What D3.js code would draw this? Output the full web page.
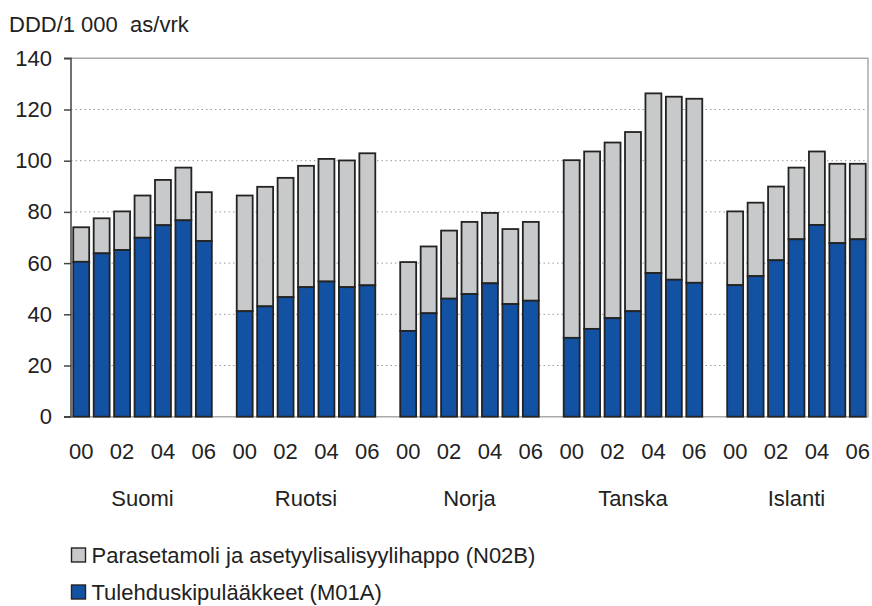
<!DOCTYPE html>
<html>
<head>
<meta charset="utf-8">
<script src="https://cdn.jsdelivr.net/npm/d3@7"></script>
<style>
  html, body { margin: 0; padding: 0; background: #fff; }
  svg { display: block; font-family: "Liberation Sans", Arial, sans-serif; }
</style>
</head>
<body>
<svg id="chart" width="872" height="606"></svg>
<script>
const countries = ["Suomi", "Ruotsi", "Norja", "Tanska", "Islanti"];
const years = ["00", "01", "02", "03", "04", "05", "06"];
const yearLabels = ["00", "02", "04", "06"];
// Tulehduskipulääkkeet (M01A)
const m01a = [
  [60.5, 63.8, 65.1, 69.9, 74.8, 76.7, 68.6],
  [41.2, 43.1, 46.7, 50.6, 52.8, 50.6, 51.3],
  [33.5, 40.4, 46.1, 47.9, 52.1, 44.0, 45.3],
  [30.8, 34.3, 38.5, 41.2, 56.1, 53.5, 52.3],
  [51.4, 54.9, 61.1, 69.3, 74.9, 67.8, 69.3]
];
// Totals (M01A + N02B)
const totals = [
  [74.0, 77.5, 80.2, 86.4, 92.5, 97.3, 87.7],
  [86.4, 89.8, 93.3, 98.0, 100.7, 100.1, 102.9],
  [60.4, 66.5, 72.7, 76.1, 79.6, 73.3, 76.1],
  [100.2, 103.6, 107.1, 111.2, 126.3, 125.0, 124.2],
  [80.2, 83.6, 89.9, 97.3, 103.6, 98.8, 98.8]
];
const yTicks = [0, 20, 40, 60, 80, 100, 120, 140];
const seriesNames = ["Parasetamoli ja asetyylisalisyylihappo (N02B)", "Tulehduskipulääkkeet (M01A)"];
const yTitle = "DDD/1 000\u00a0\u00a0as/vrk";

(function () {
const colBlue = "#1351a3", colGray = "#c8c9ca", colStroke = "#232323";
const svg = d3.select("#chart");
const pL = 71, pR = 868, pT = 58.3, pB = 416.7;
const fs = 22;

const slots = [];
countries.forEach((c, ci) => {
  years.forEach(yv => slots.push(c + "|" + yv));
  if (ci < countries.length - 1) slots.push("gap" + ci);
});
const x = d3.scaleBand().domain(slots).range([pL, pR]).paddingInner(0.22).paddingOuter(0.11);
const y = d3.scaleLinear().domain([0, 140]).range([pB, pT]);

svg.append("g").selectAll("line").data(yTicks.filter(t => t > 0 && t < 140)).join("line")
  .attr("x1", pL).attr("x2", pR).attr("y1", d => y(d)).attr("y2", d => y(d))
  .attr("stroke", "#999").attr("stroke-width", 1).attr("stroke-dasharray", "1.5,3");
svg.append("path").attr("d", `M${pL},${y(140)}H${pR}V${y(0)}H${pL}`)
  .attr("fill", "none").attr("stroke", "#aaa").attr("stroke-width", 1.5);

const rows = [];
countries.forEach((c, ci) => years.forEach((yv, yi) => {
  rows.push({key: c + "|" + yv, m: m01a[ci][yi], t: totals[ci][yi]});
}));

const g = svg.append("g");
g.selectAll("rect.gray").data(rows).join("rect").attr("class", "gray")
  .attr("x", d => x(d.key)).attr("width", x.bandwidth())
  .attr("y", d => y(d.t)).attr("height", d => y(d.m) - y(d.t))
  .attr("fill", colGray).attr("stroke", colStroke).attr("stroke-width", 1.8);
g.selectAll("rect.blue").data(rows).join("rect").attr("class", "blue")
  .attr("x", d => x(d.key)).attr("width", x.bandwidth())
  .attr("y", d => y(d.m)).attr("height", d => y(0) - y(d.m))
  .attr("fill", colBlue).attr("stroke", colStroke).attr("stroke-width", 1.8);

const yAxis = d3.axisLeft(y).tickValues(yTicks).tickSize(7).tickPadding(12).tickFormat(d3.format("d"));
const ya = svg.append("g").attr("transform", `translate(${pL},0)`).call(yAxis);
ya.select(".domain").attr("stroke", "#444").attr("stroke-width", 1.5).attr("d", `M-7,${y(140)}H0V${y(0)}H-7`);
ya.selectAll(".tick line").attr("stroke", "#444").attr("stroke-width", 1.5);
ya.selectAll("text").attr("font-size", fs).attr("fill", "#222").attr("font-family", "Liberation Sans, Arial, sans-serif");

const xl = [];
countries.forEach(c => yearLabels.forEach(yl => xl.push({key: c + "|" + yl, label: yl})));
svg.append("g").selectAll("text").data(xl).join("text")
  .attr("x", d => x(d.key) + x.bandwidth() / 2).attr("y", 451).attr("dy", "0.36em")
  .attr("text-anchor", "middle").attr("font-size", fs).attr("fill", "#222").text(d => d.label);
svg.append("g").selectAll("text").data(countries).join("text")
  .attr("x", c => x(c + "|03") + x.bandwidth() / 2).attr("y", 498).attr("dy", "0.36em")
  .attr("text-anchor", "middle").attr("font-size", fs).attr("fill", "#222").text(c => c);

svg.append("text").attr("x", 9).attr("y", 31.5).attr("font-size", fs).attr("fill", "#222").text(yTitle);

const legCols = [colGray, colBlue];
const lg = svg.append("g").selectAll("g").data(seriesNames).join("g")
  .attr("transform", (d, i) => `translate(71,${555 + i * 37})`);
lg.append("rect").attr("x", 0.5).attr("y", -7).attr("width", 14).attr("height", 14)
  .attr("fill", (d, i) => legCols[i]).attr("stroke", colStroke).attr("stroke-width", 1.4);
lg.append("text").attr("x", 20.5).attr("dy", "0.36em").attr("font-size", fs).attr("fill", "#222").text(d => d);
})();
</script>
</body>
</html>
